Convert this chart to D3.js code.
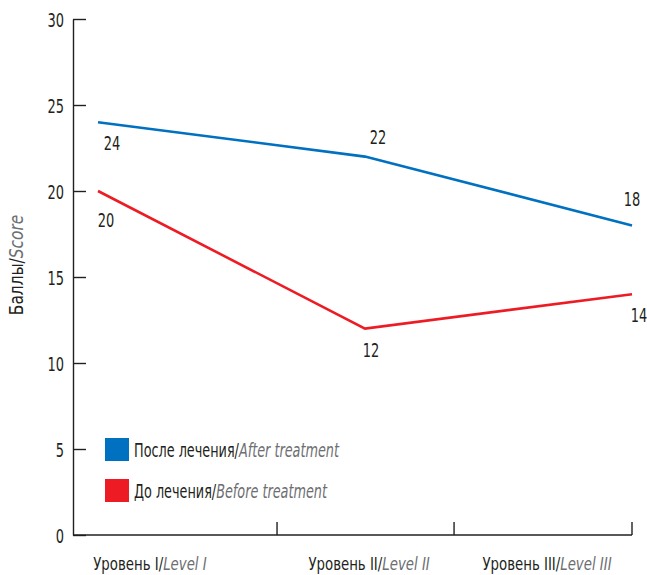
<!DOCTYPE html>
<html>
<head>
<meta charset="utf-8">
<script src="https://cdn.jsdelivr.net/npm/d3@7"></script>
<style>
  html, body { margin: 0; padding: 0; background: #fff; }
  svg text { font-family: "DejaVu Sans Condensed", "DejaVu Sans", sans-serif; }
</style>
</head>
<body>
<svg id="chart" width="647" height="575"></svg>
<script>
// Levels on the x axis
const categories = ["Уровень I", "Уровень II", "Уровень III"];
const categoriesEn = ["Level I", "Level II", "Level III"];

// Scores per level
const afterTreatment = [24, 22, 18];
const beforeTreatment = [20, 12, 14];

// Y axis ticks
const yTicks = [0, 5, 10, 15, 20, 25, 30];

const seriesNames = ["После лечения", "До лечения"];
const seriesNamesEn = ["After treatment", "Before treatment"];

const colors = ["#0070c0", "#ed1c24"];
const textDark = "#231f20";
const textGray = "#6d6e71";

// Narrow type: horizontal squeeze applied to every text
const squeeze = 0.76;

// Value label placement relative to each point [dx, dy]
const labelOffsets = [
  [[14, 21], [13, -19], [0, -26]],
  [[8, 29], [6, 22], [7, 21]]
];

const svg = d3.select("#chart");

const plot = { left: 73, right: 632, top: 19, bottom: 535 };

const y = d3.scaleLinear().domain([0, 30]).range([plot.bottom, plot.top]);
const x = d3.scalePoint().domain(categories).range([98, plot.right]);

// Place a squeezed text at (px, py)
function narrowText(sel, px, py, size, sx) {
  return sel
    .attr("x", 0).attr("y", 0)
    .attr("transform", (d, i) => `translate(${px(d, i)},${py(d, i)}) scale(${sx},1)`)
    .attr("font-size", size);
}

// Y axis: ticks pointing into the plot
const yAxis = d3.axisRight(y).tickValues(yTicks).tickSize(13).tickSizeOuter(0).tickFormat(d3.format("d"));
const gy = svg.append("g").attr("transform", `translate(${plot.left},0)`).call(yAxis);
gy.select(".domain").attr("stroke", textDark).attr("stroke-width", 1.4);
gy.selectAll(".tick line").attr("stroke", textDark).attr("stroke-width", 1.4);
gy.selectAll(".tick text").each(function () {
  d3.select(this)
    .attr("x", 0).attr("y", 0)
    .attr("transform", `translate(-9,1) scale(${squeeze},1)`)
    .attr("text-anchor", "end").attr("dy", "0.36em")
    .attr("font-size", 19).attr("fill", textDark)
    .style("font-family", '"DejaVu Sans Condensed", "DejaVu Sans", sans-serif');
});

// X axis baseline with separator ticks between levels
const xSep = d3.scaleLinear().domain([0, 3]).range([plot.left, plot.right]);
const sepTicks = [1.095, 2.045, 3];
svg.append("line")
  .attr("x1", plot.left).attr("x2", plot.right)
  .attr("y1", plot.bottom).attr("y2", plot.bottom)
  .attr("stroke", textDark).attr("stroke-width", 1.4);
svg.selectAll(".xsep").data(sepTicks).enter().append("line")
  .attr("x1", d => xSep(d)).attr("x2", d => xSep(d))
  .attr("y1", plot.bottom).attr("y2", plot.bottom - 13)
  .attr("stroke", textDark).attr("stroke-width", 1.4);

// Category labels
const labelCenters = [0.413, 1.589, 2.544];
const xl = narrowText(
  svg.selectAll(".xlabel").data(categories).enter().append("text"),
  (d, i) => xSep(labelCenters[i]), () => 570, 18.5, 0.8)
  .attr("text-anchor", "middle");
xl.append("tspan").attr("fill", textDark).text(d => d + "/");
xl.append("tspan").attr("fill", textGray).attr("font-style", "italic").text((d, i) => categoriesEn[i]);

// Y axis title
const yt = svg.append("text")
  .attr("transform", "translate(23,265) rotate(-90) scale(0.9,1)")
  .attr("text-anchor", "middle")
  .attr("font-size", 19);
yt.append("tspan").attr("fill", textDark).text("Баллы/");
yt.append("tspan").attr("fill", textGray).attr("font-style", "italic").text("Score");

// Lines
const series = [afterTreatment, beforeTreatment];
const line = d3.line().x((d, i) => x(categories[i])).y(d => y(d));
svg.selectAll(".series").data(series).enter().append("path")
  .attr("d", d => line(d))
  .attr("fill", "none")
  .attr("stroke", (d, i) => colors[i])
  .attr("stroke-width", 2.6);

// Value labels
series.forEach((vals, si) => {
  narrowText(
    svg.selectAll(".val" + si).data(vals).enter().append("text"),
    (d, i) => x(categories[i]) + labelOffsets[si][i][0],
    (d, i) => y(d) + labelOffsets[si][i][1], 19, squeeze)
    .attr("dy", "0.36em")
    .attr("text-anchor", "middle")
    .attr("fill", textDark)
    .text(d => d);
});

// Legend
const legend = svg.selectAll(".legend").data(seriesNames).enter().append("g")
  .attr("transform", (d, i) => `translate(105,${438 + i * 41})`);
legend.append("rect")
  .attr("width", 24).attr("height", 23)
  .attr("fill", (d, i) => colors[i]);
const lt = narrowText(legend.append("text"), () => 29, () => 12, 19, 0.75)
  .attr("dy", "0.36em");
lt.append("tspan").attr("fill", textDark).text(d => d + "/");
lt.append("tspan").attr("fill", textGray).attr("font-style", "italic").text((d, i) => seriesNamesEn[i]);
</script>
</body>
</html>
